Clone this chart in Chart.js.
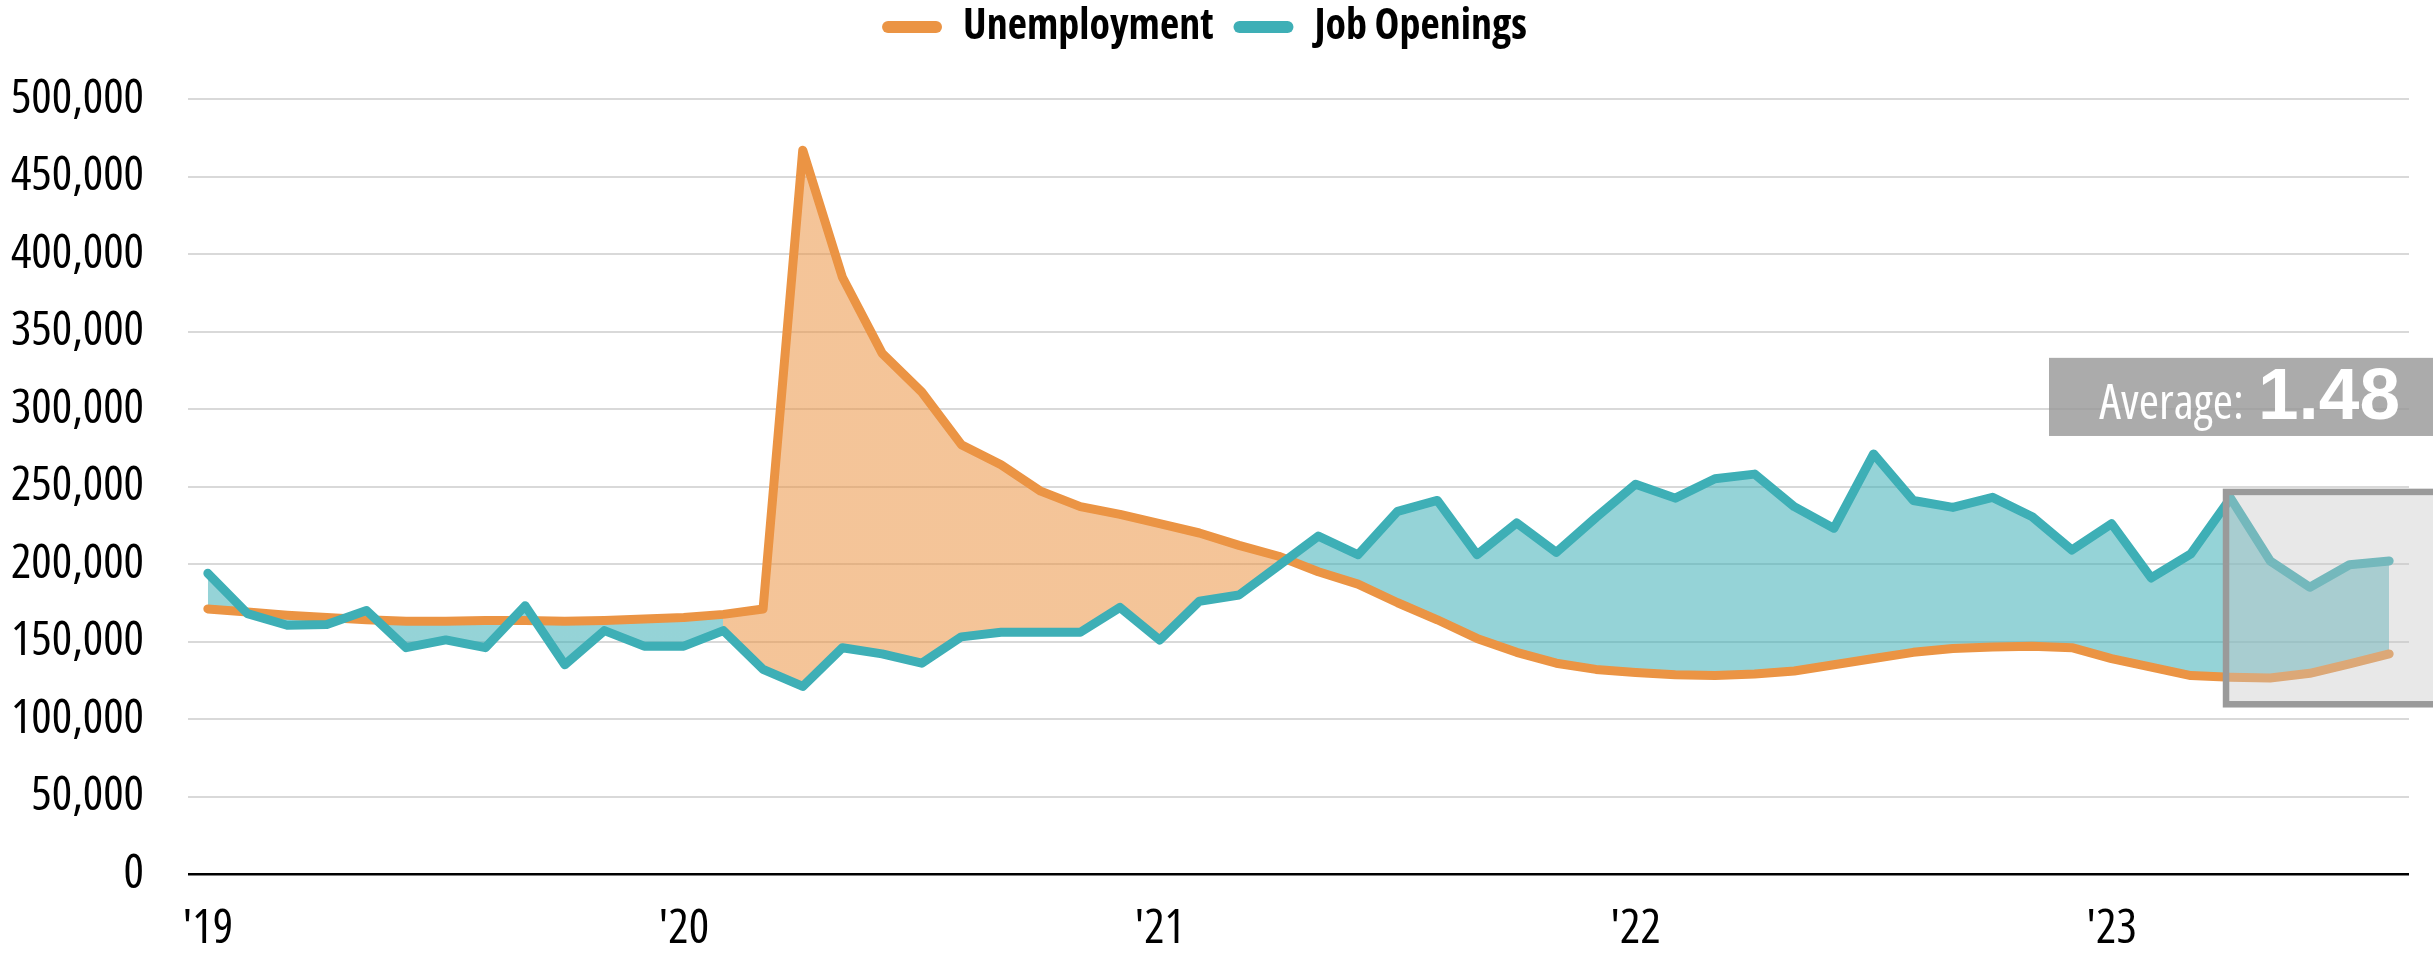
<!DOCTYPE html>
<html>
<head>
<meta charset="utf-8">
<title>Unemployment vs Job Openings</title>
<script src="https://cdn.jsdelivr.net/npm/chart.js@4.4.1/dist/chart.umd.min.js"></script>
<style>
  html, body { margin: 0; padding: 0; background: #fff; }
  #wrap { width: 2433px; height: 958px; position: relative; }
</style>
</head>
<body>
<div id="wrap"><canvas id="jobsChart"></canvas></div>
<script>
// Data block
const years = ['2019', '2020', '2021', '2022', '2023'];
const yearTicks = ["'19", "'20", "'21", "'22", "'23"];
const monthNames = ['Jan', 'Feb', 'Mar', 'Apr', 'May', 'Jun', 'Jul', 'Aug', 'Sep', 'Oct', 'Nov', 'Dec'];

const unemployment = [
  171000, 169000, 167000, 165500, 164000, 163000, 163000, 163500, 163500, 163000, 163500, 164500,
  165500, 167500, 171000, 467000, 385000, 336000, 311000, 277000, 264000, 247000, 237000, 232000,
  226000, 220000, 212000, 205000, 195000, 187000, 175000, 164000, 152000, 143000, 136000, 132000,
  130000, 128500, 128000, 129000, 131000, 135000, 139000, 143000, 145500, 146500, 147000, 146000,
  139000, 133500, 128000, 127000, 126500, 129500, 135500, 142000
];
const jobOpenings = [
  194000, 168000, 160500, 161000, 170000, 146000, 151000, 146000, 173000, 135000, 157000, 147000,
  147000, 157000, 132000, 121000, 146000, 142000, 136000, 153000, 156000, 156000, 156000, 172000,
  151000, 176000, 180000, 199000, 218000, 206000, 234000, 241000, 206000, 226500, 207500, 230000,
  251500, 242500, 255000, 258000, 237000, 223000, 271000, 241000, 236500, 243000, 230500, 209000,
  226000, 191000, 206500, 242500, 202000, 185000, 199500, 202000
];
const averageText = 'Average:';
const averageValue = '1.48';

// months Jan 2019 .. Aug 2023
const months = [];
years.forEach(y => monthNames.forEach(m => {
  if (months.length < unemployment.length) months.push(m + ' ' + y);
}));

// font: the original uses a narrow sans, pick the narrowest one installed
const probe = document.createElement('canvas').getContext('2d');
function textWidth(font, text) { probe.font = font; return probe.measureText(text).width; }
function pickFont() {
  const sample = 'Unemployment 500,000 Average';
  const mono = textWidth('40px monospace', sample);
  const list = [
    { family: "'Liberation Sans Narrow'", stretch: '' },
    { family: "'Arial Narrow'", stretch: '' },
    { family: "'Noto Sans'", stretch: 'condensed' },
    { family: "'Open Sans'", stretch: 'condensed' },
    { family: "'Roboto'", stretch: 'condensed' },
    { family: "'DejaVu Sans Condensed'", stretch: '' }
  ];
  for (const f of list) {
    const w = textWidth(`${f.stretch} 40px ${f.family}, monospace`, sample);
    if (Math.abs(w - mono) < 0.5) continue;
    if (f.stretch && w > textWidth(`40px ${f.family}`, sample) * 0.93) continue;
    return f;
  }
  return { family: 'sans-serif', stretch: '' };
}
const picked = pickFont();
const FONT = picked.family + ', sans-serif';
const STRETCH = picked.stretch;
function weightOf(w) { return (STRETCH ? STRETCH + ' ' : '') + w; }
function fitSize(text, target, weight, maxSize) {
  const w = textWidth(`${weightOf(weight)} 100px ${FONT}`, text);
  return Math.min(maxSize, Math.floor(100 * target / w * 10) / 10);
}
const tickSize = fitSize('500,000', 140, 'normal', 48);
const legendSize = fitSize('Job Openings', 229, 'bold', 42);
const avgSize = fitSize('Average:', 155, 'normal', 49);

// styles
const orange = '#EB9444';
const teal = '#3EAFB6';
const orangeFill = 'rgba(235, 148, 68, 0.55)';
const tealFill = 'rgba(62, 175, 182, 0.55)';
const fillSwitchIndex = 13;      // Feb 2020: gap shaded teal before, orange after
const boxStartIndex = 51;        // Apr 2023
const boxTop = 246500, boxBottom = 109500;
const labelTop = 333000, labelBottom = 282600;
const LEGEND_PAD = 20;
const legendTop = 27 - LEGEND_PAD - legendSize / 2;

function gapFill(context) {
  const chart = context.chart;
  const x = chart.scales && chart.scales.x;
  if (!chart.chartArea || !x) return orangeFill;
  const split = Math.min(Math.max(x.getPixelForValue(fillSwitchIndex) / chart.width, 0), 1);
  const g = chart.ctx.createLinearGradient(0, 0, chart.width, 0);
  g.addColorStop(0, tealFill);
  g.addColorStop(split, tealFill);
  g.addColorStop(split, orangeFill);
  g.addColorStop(1, orangeFill);
  return g;
}

// legend takes the room above the plot
const legendSpace = {
  id: 'legendSpace',
  beforeInit(chart) {
    const fit = chart.legend.fit;
    chart.legend.fit = function () {
      fit.call(this);
      this.height = 99 - legendTop;
    };
  }
};

// grey highlight box + average label
const highlight = {
  id: 'highlight',
  afterDatasetsDraw(chart) {
    const { ctx, scales: { x, y } } = chart;
    const left = x.getPixelForValue(boxStartIndex) - 4.5;
    const top = y.getPixelForValue(boxTop);
    const bottom = y.getPixelForValue(boxBottom);
    const right = chart.width + 20;
    ctx.save();
    ctx.fillStyle = 'rgba(198, 198, 198, 0.4)';
    ctx.fillRect(left, top, right - left, bottom - top);
    ctx.strokeStyle = '#9a9a9a';
    ctx.lineWidth = 6.5;
    ctx.strokeRect(left, top, right - left, bottom - top);

    const lTop = y.getPixelForValue(labelTop);
    const lBottom = y.getPixelForValue(labelBottom);
    const lLeft = chart.width - 384;
    ctx.fillStyle = 'rgba(150, 150, 150, 0.8)';
    ctx.fillRect(lLeft, lTop, chart.width - lLeft, lBottom - lTop);

    const base = lTop + 61;
    ctx.fillStyle = '#fff';
    ctx.textAlign = 'right';
    ctx.textBaseline = 'alphabetic';
    ctx.font = "bold 73px 'Liberation Sans', Arial, sans-serif";
    const valueRight = chart.width - 33;
    ctx.fillText(averageValue, valueRight, base);
    const w = ctx.measureText(averageValue).width;
    ctx.font = `${weightOf('normal')} ${avgSize}px ${FONT}`;
    ctx.fillText(averageText, valueRight - w - 14, base);
    ctx.restore();
  }
};

const data = {
  labels: months,
  datasets: [
    {
      label: 'Unemployment',
      data: unemployment,
      borderColor: orange,
      backgroundColor: gapFill,
      borderWidth: 9,
      borderCapStyle: 'round',
      borderJoinStyle: 'round',
      pointRadius: 0,
      tension: 0,
      fill: { target: 1, below: tealFill },
      order: 1
    },
    {
      label: 'Job Openings',
      data: jobOpenings,
      borderColor: teal,
      backgroundColor: teal,
      borderWidth: 9,
      borderCapStyle: 'round',
      borderJoinStyle: 'round',
      pointRadius: 0,
      tension: 0,
      fill: false,
      order: 0
    }
  ]
};

// config block
const config = {
  type: 'line',
  data,
  options: {
    responsive: true,
    maintainAspectRatio: false,
    animation: false,
    devicePixelRatio: 1,
    layout: { padding: { left: 0, right: 24, top: legendTop, bottom: 0 } },
    plugins: {
      tooltip: { enabled: false },
      legend: {
        position: 'top',
        labels: {
          color: '#000',
          font: { family: FONT, size: legendSize, weight: weightOf('bold') },
          boxWidth: 60,
          boxHeight: 12,
          padding: LEGEND_PAD,
          useBorderRadius: true,
          borderRadius: 6,
          generateLabels: chart => chart.data.datasets.map((ds, i) => ({
            text: ds.label,
            fillStyle: ds.borderColor,
            strokeStyle: ds.borderColor,
            lineWidth: 0,
            borderRadius: 6,
            fontColor: '#000',
            hidden: false,
            datasetIndex: i
          }))
        }
      }
    },
    scales: {
      x: {
        offset: true,
        afterFit(scale) { scale.height = 84; },
        grid: { display: false, drawTicks: false },
        border: { display: false },
        ticks: {
          autoSkip: false,
          maxRotation: 0,
          padding: 55 - 0.6 * tickSize,
          color: '#000',
          font: { family: FONT, size: tickSize, weight: weightOf('normal') },
          callback: (v, i) => {
            const [m, y] = months[i].split(' ');
            return m === 'Jan' ? yearTicks[years.indexOf(y)] : '';
          }
        }
      },
      y: {
        min: 0,
        max: 500000,
        afterFit(scale) { scale.width = 188; },
        border: { display: false },
        grid: {
          drawTicks: false,
          color: c => c.tick.value === 0 ? '#000' : '#d9d9d9',
          lineWidth: c => c.tick.value === 0 ? 2.5 : 2
        },
        ticks: {
          stepSize: 50000,
          padding: 44,
          color: '#000',
          font: { family: FONT, size: tickSize, weight: weightOf('normal') },
          callback: v => v.toLocaleString('en-US')
        }
      }
    }
  },
  plugins: [legendSpace, highlight]
};

// render / init
const jobsChart = new Chart(document.getElementById('jobsChart'), config);
</script>
</body>
</html>
